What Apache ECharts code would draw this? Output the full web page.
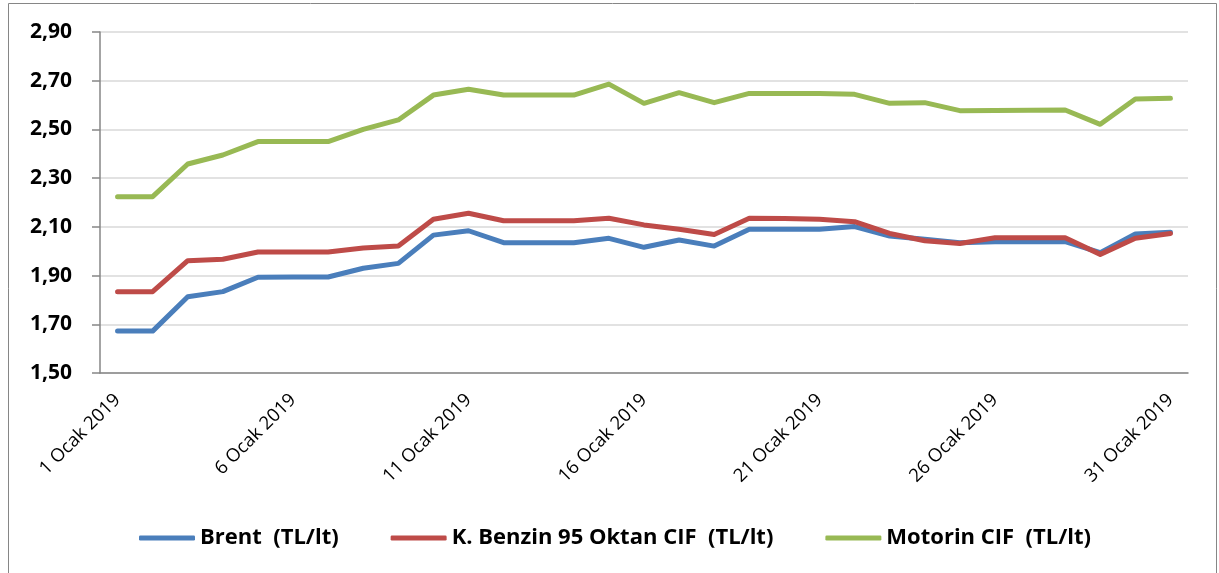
<!DOCTYPE html>
<html>
<head>
<meta charset="utf-8">
<script src="https://cdn.jsdelivr.net/npm/echarts@6/dist/echarts.min.js"></script>
<style>
  html, body { margin: 0; padding: 0; background: #fff; }
  #chart { width: 1219px; height: 573px; }
</style>
</head>
<body>
<div id="chart"></div>
<script>
var days = [];
for (var d = 1; d <= 31; d++) days.push(d + ' Ocak 2019');

var brent = [1.672, 1.672, 1.813, 1.834, 1.893, 1.894, 1.894, 1.930, 1.950, 2.066, 2.084,
             2.035, 2.035, 2.035, 2.053, 2.016, 2.046, 2.021, 2.090, 2.090, 2.090, 2.101,
             2.062, 2.049, 2.035, 2.039, 2.039, 2.039, 1.994, 2.071, 2.078];
var benzin = [1.834, 1.834, 1.961, 1.967, 1.997, 1.997, 1.997, 2.013, 2.021, 2.131, 2.156,
              2.125, 2.125, 2.125, 2.135, 2.108, 2.090, 2.069, 2.135, 2.134, 2.131, 2.121,
              2.073, 2.043, 2.032, 2.055, 2.055, 2.055, 1.987, 2.053, 2.073];
var motorin = [2.224, 2.224, 2.358, 2.395, 2.450, 2.450, 2.450, 2.500, 2.539, 2.641, 2.665,
               2.641, 2.641, 2.641, 2.686, 2.607, 2.651, 2.610, 2.648, 2.648, 2.648, 2.644,
               2.607, 2.610, 2.577, 2.578, 2.579, 2.580, 2.521, 2.625, 2.628];

var names = ['Brent  (TL/lt)', 'K. Benzin 95 Oktan CIF  (TL/lt)', 'Motorin CIF  (TL/lt)'];
var colors = ['#4a7ebb', '#be4b48', '#98b954'];

function makeSeries(name, values, color) {
    return {
        name: name,
        type: 'line',
        data: values,
        symbol: 'none',
        lineStyle: { width: 5, color: color, cap: 'round', join: 'round' },
        itemStyle: { color: color }
    };
}

var option = {
    animation: false,
    textStyle: { fontFamily: 'Open Sans' },
    grid: { left: 100, right: 31, top: 32, bottom: 200 },
    graphic: [{
        type: 'rect',
        shape: { x: 8.5, y: 3.5, width: 1208, height: 620 },
        style: { fill: 'none', stroke: '#868686', lineWidth: 1 },
        silent: true
    }],
    legend: {
        left: 134,
        top: 522,
        itemWidth: 56,
        itemHeight: 5,
        itemGap: 52,
        icon: 'roundRect',
        textStyle: { fontSize: 22, fontWeight: 'bold', color: '#000', fontFamily: 'Open Sans' },
        data: names
    },
    xAxis: {
        type: 'category',
        data: days,
        boundaryGap: true,
        axisLine: { lineStyle: { color: '#868686', width: 1.5 } },
        axisTick: { interval: 4, length: 7, lineStyle: { color: '#868686', width: 1.5 } },
        axisLabel: {
            interval: 4, rotate: 45, margin: 24, fontSize: 18.5, color: '#000',
            fontFamily: 'Open Sans'
        }
    },
    yAxis: {
        type: 'value',
        min: 1.5,
        max: 2.9,
        interval: 0.2,
        axisLine: { show: true, lineStyle: { color: '#868686', width: 1.5 } },
        axisTick: { show: true, length: 8, lineStyle: { color: '#868686', width: 1.5 } },
        axisLabel: {
            margin: 28,
            fontSize: 21,
            fontWeight: 'bold',
            color: '#000',
            fontFamily: 'Open Sans',
            formatter: function (v) { return v.toFixed(2).replace('.', ','); }
        },
        splitLine: { lineStyle: { color: '#d9d9d9', width: 1.5 } }
    },
    series: [
        makeSeries(names[0], brent, colors[0]),
        makeSeries(names[1], benzin, colors[1]),
        makeSeries(names[2], motorin, colors[2])
    ]
};

var myChart = echarts.init(document.getElementById('chart'));
myChart.setOption(option);
</script>
</body>
</html>
